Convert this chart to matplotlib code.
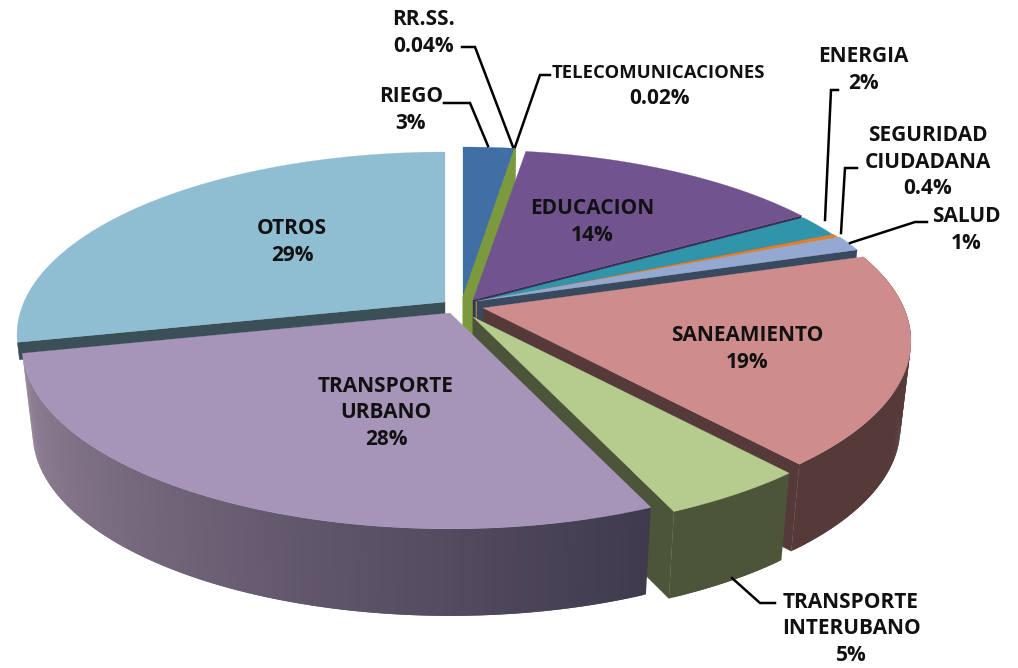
"""Torta 3D de inversion por sector"""
import numpy as np
import matplotlib
matplotlib.use("Agg")
import matplotlib.pyplot as plt
from matplotlib.colors import to_rgb

# orden horario desde las 12
sectores = ["RIEGO", "RR.SS.", "TELECOMUNICACIONES", "EDUCACION", "ENERGIA",
            "SEGURIDAD CIUDADANA", "SALUD", "SANEAMIENTO",
            "TRANSPORTE INTERUBANO", "TRANSPORTE URBANO", "OTROS"]
valores = [2.3, 0.04, 0.02, 13.9, 2.0, 0.4, 1.4, 18.7, 4.7, 28.0, 28.5]
textos = ["RIEGO\n3%", "RR.SS.\n0.04%", "TELECOMUNICACIONES", "EDUCACION\n14%",
          "ENERGIA\n2%", "SEGURIDAD\nCIUDADANA\n0.4%", "SALUD\n1%", "SANEAMIENTO\n19%",
          "TRANSPORTE\nINTERUBANO\n5%", "TRANSPORTE\nURBANO\n28%", "OTROS\n29%"]
texto_telecom = "0.02%"

colores = ["#3f6fa5", "#7b9a3e", "#7b9a3e", "#71548f", "#3095aa", "#e27f2c",
           "#93a9d2", "#ce8d8c", "#b5cc8e", "#a695b9", "#8fbdd1"]
paredes = ["#7b9a3e", "#7b9a3e", "#7b9a3e", "#3f2d55", "#1e5a68", "#e27f2c",
           "#384a60", "#563a3a", "#4c5539", "#4a4458", "#3b4f57"]
# desplazamiento de cada porcion en pixeles
despl = [(-5, -11), (-5, -11), (-5, -11), (5, -8), (7, -6), (8, -6), (9, -7),
         (15, 0), (5, 9), (-18, 5), (-23, -6)]
# orden de pintado, de atras hacia adelante
orden = [10, 0, 1, 2, 3, 4, 5, 6, 7, 8, 9]

pos_texto = [(411, 110), (424, 33), (658, 73), (592, 222), (863, 70), (928, 162),
             (966, 230), (747, 349), (851, 629), (386, 413), (292, 242)]
pos_telecom = (659, 98)
pos_guias = {
    0: [(444, 103), (470, 103), (488, 146)],
    1: [(462, 47), (475, 47), (513, 147)],
    2: [(550, 75), (540, 75), (515, 147)],
    4: [(838, 90), (831, 90), (825, 220)],
    5: [(857, 168), (845, 168), (841, 233)],
    6: [(927, 222), (915, 222), (850, 243)],
    8: [(775, 603), (760, 603), (732, 578)],
}

CX, CY = 468, 308
RX, RY = 421, 177
K = 0.18
ALTO = 87


def proyectar(t, r=1.0, z=0.0):
    """Pasa angulo (horario desde arriba) y radio a pixeles, con perspectiva"""
    u = r * np.sin(t)
    v = r * np.cos(t)
    w = 1 + K * v
    x = RX * u / w * (1 - 0.025 * z)
    y = -RY * v / w + ALTO * z
    return x, y


def mezcla(c1, c2, f):
    a, b = np.array(to_rgb(c1)), np.array(to_rgb(c2))
    return a + (b - a) * f


def dibujar_porcion(ax, t0, t1, color, pared, off, degradado=False, borde=True, z_corte=1.0):
    dx, dy = off
    # paredes de corte visibles
    for t, visible in ((t0, np.sin(t0) < -0.01), (t1, np.sin(t1) > 0.01)):
        if not visible:
            continue
        xa, ya = proyectar(t, 0.0)
        xb, yb = proyectar(t, 1.0)
        xc, yc = proyectar(t, 1.0, z_corte)
        xd, yd = proyectar(t, 0.0, z_corte)
        ax.fill(np.array([xa, xb, xc, xd]) + dx, np.array([ya, yb, yc, yd]) + dy,
                color=pared, lw=0.3)
    # borde exterior, tiras solapadas para que no queden costuras
    ts = np.linspace(t0, t1, max(3, int(np.degrees(t1 - t0) * 2)))
    ts = ts[np.cos(ts) < 0.35]
    if borde and len(ts) > 2:
        for a, b in zip(ts[:-2], ts[2:]):
            x1, y1 = proyectar(np.array([a, b]), 1.0, 0.0)
            x2, y2 = proyectar(np.array([b, a]), 1.0, 1.0)
            c = pared
            if degradado:
                c = mezcla("#3f3a4e", "#958398", (a - t0) / (t1 - t0))
            ax.fill(np.r_[x1, x2] + dx, np.r_[y1, y2] + dy, color=c, lw=0)
    # cara superior
    ts = np.linspace(t0, t1, 120)
    x, y = proyectar(ts)
    xa, ya = proyectar(t0, 0.0)
    ax.fill(np.r_[xa, x] + dx, np.r_[ya, y] + dy, color=color, lw=0.2)


plt.rcParams['font.family'] = ['Open Sans', 'DejaVu Sans']
fig = plt.figure(figsize=(10.18, 6.68), dpi=100)
ax = fig.add_axes([0, 0, 1, 1])
ax.set_xlim(-CX, 1018 - CX)
ax.set_ylim(668 - CY, -CY)
ax.axis("off")

acum = np.r_[0, np.cumsum(valores)] / np.sum(valores) * 2 * np.pi

for i in orden:
    dibujar_porcion(ax, acum[i], acum[i + 1], colores[i], paredes[i], despl[i],
                    degradado=sectores[i] == "TRANSPORTE URBANO",
                    borde=sectores[i] != "OTROS" and sectores[i] != "SALUD",
                    z_corte=0.2 if sectores[i] == "OTROS" else 1.0)

for puntos in pos_guias.values():
    ax.plot([p[0] - CX for p in puntos], [p[1] - CY for p in puntos],
            color="black", lw=1.8, solid_joinstyle="miter")

for texto, (x, y) in zip(textos, pos_texto):
    size = 13.3 if texto.startswith("TELECOM") else 15
    ax.text(x - CX, y - CY, texto, ha="center", va="center", fontsize=size,
            fontweight="bold", color="#111111", linespacing=1.32)
ax.text(pos_telecom[0] - CX, pos_telecom[1] - CY, texto_telecom, ha="center", va="center",
        fontsize=15, fontweight="bold", color="#111111")

fig.savefig("out.png", dpi=100)
